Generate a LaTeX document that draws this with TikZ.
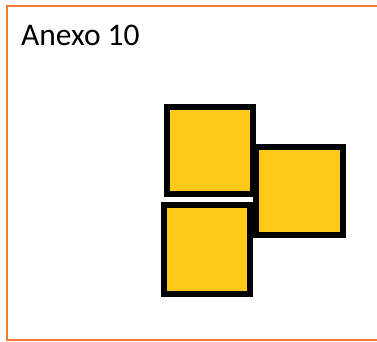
\documentclass[tikz,border=0pt]{standalone}
\usepackage{fontspec}
\setmainfont{Carlito}
\definecolor{frameorange}{HTML}{ED7D31}
\definecolor{sqyellow}{HTML}{FFC91A}
\begin{document}
\begin{tikzpicture}[x=1pt,y=-1pt,
  sq/.style={draw=black,fill=sqyellow,line width=6pt,inner sep=0pt,rectangle}]
\useasboundingbox (0,0) rectangle (377,341);
\fill[white] (0,0) rectangle (377,341);
\draw[frameorange,line width=2pt] (390,6) -- (6.5,6) -- (6.5,340) -- (390,340);
\node[anchor=base west,inner sep=0pt,font=\fontsize{31.5}{36}\selectfont] (title) at (21,45) {Anexo 10};
\node[sq,minimum width=86pt,minimum height=87pt] (a) at (210,150.5) {};
\node[sq,minimum width=86pt,minimum height=89pt] (c) at (207,249.5) {};
\node[sq,minimum width=87pt,minimum height=88pt] (b) at (299.5,191) {};
\end{tikzpicture}
\end{document}
